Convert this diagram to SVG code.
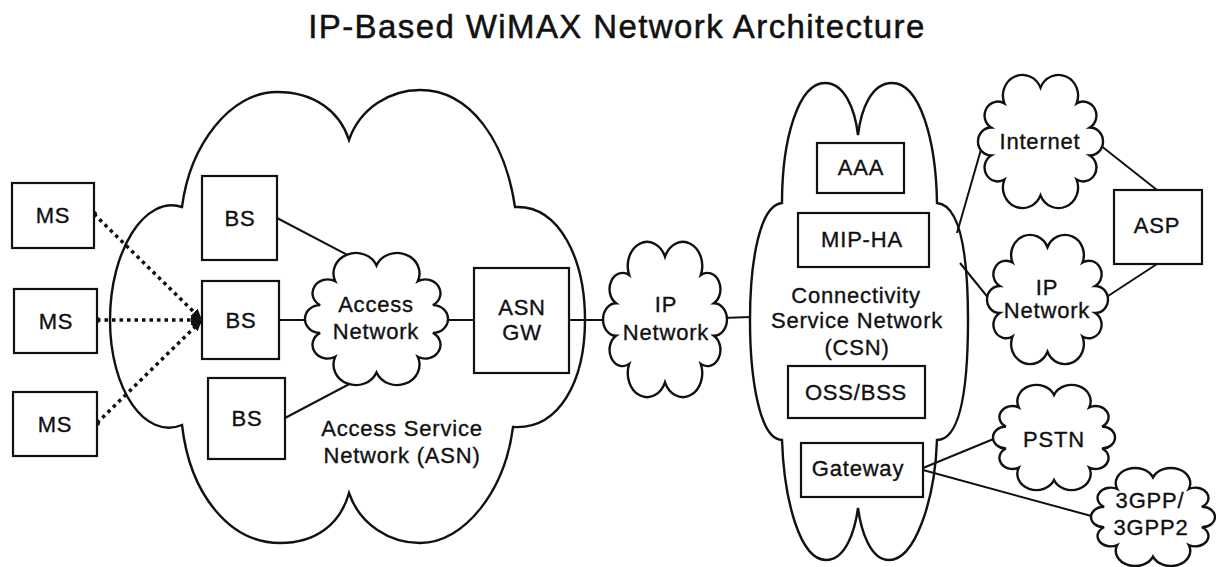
<svg xmlns="http://www.w3.org/2000/svg" xmlns:xlink="http://www.w3.org/1999/xlink" width="1216" height="567" viewBox="0 0 1216 567">
<style>
.bg{fill:#fff}
.box{fill:#fff;stroke:#111;stroke-width:2.2}
.big{fill:#fff;stroke:#111;stroke-width:2.4}
.cloud{fill:#fff;stroke:#111}
.ln{stroke:#111;stroke-width:2;fill:none}
.dl{stroke:#111;stroke-width:3.5;stroke-dasharray:3.5 4;fill:none}
.t{font-family:"Liberation Sans",Arial,Helvetica,sans-serif;font-size:22px;letter-spacing:0.8px;text-anchor:middle;fill:#111;stroke:#111;stroke-width:0.35}
.title{font-family:"Liberation Sans",Arial,Helvetica,sans-serif;font-size:33px;letter-spacing:1.4px;text-anchor:middle;fill:#111;stroke:#111;stroke-width:0.5}
</style>
<defs>
<path id="cl" vector-effect="non-scaling-stroke" stroke-width="2.4" d="M0,-40 A1,1 0 0 1 28.28,-28.28 A1,1 0 0 1 38.64,-10.35 A1,1 0 0 1 38.64,10.35 A1,1 0 0 1 28.28,28.28 A1,1 0 0 1 0,40 A1,1 0 0 1 -28.28,28.28 A1,1 0 0 1 -38.64,10.35 A1,1 0 0 1 -38.64,-10.35 A1,1 0 0 1 -28.28,-28.28 A1,1 0 0 1 0,-40 Z"/>
<marker id="arr" markerUnits="userSpaceOnUse" markerWidth="12" markerHeight="10" refX="11" refY="5" orient="auto">
<path d="M0,0 L11,5 L0,10 z" fill="#111"/>
</marker>
<marker id="dot" markerUnits="userSpaceOnUse" markerWidth="8" markerHeight="8" refX="4" refY="4">
<circle cx="4" cy="4" r="3" fill="#111"/>
</marker>
</defs>
<rect class="bg" x="0" y="0" width="1216" height="567"/>
<text class="title" x="617" y="38">IP-Based WiMAX Network Architecture</text>

<g id="asn">
<path class="big" d="M182,207 C190,145 230,92 277,92 C315,92 340,112 349,140 C360,108 390,90 420,90 C470,90 505,140 515,207 C560,205 585,260 585,320 C585,380 560,430 513,427 C505,490 465,543 420,543 C390,543 360,525 349,493 C340,525 315,543 280,543 C230,543 190,495 182,425 C145,440 110,390 110,320 C110,250 145,195 182,207 Z"/>
<text class="t" x="402" y="436">Access Service</text>
<text class="t" x="402" y="463">Network (ASN)</text>
</g>

<g id="csn">
<path class="big" d="M782,203 C782,140 798,83 825,83 C845,83 855,110 858,135 C861,110 871,83 892,83 C920,83 936,140 937,203 C962,205 968,260 968,320 C968,380 962,440 937,440 C935,500 915,560 889,560 C870,560 861,530 858,508 C855,530 846,560 826,560 C800,560 784,500 782,440 C760,440 750,380 750,320 C750,260 760,205 782,203 Z"/>
<text class="t" x="856" y="303">Connectivity</text>
<text class="t" x="857" y="328">Service Network</text>
<text class="t" x="857" y="355">(CSN)</text>
</g>

<g id="connectors">
<line class="dl" x1="94" y1="214" x2="202" y2="320" marker-start="url(#dot)" marker-end="url(#arr)"/>
<line class="dl" x1="97" y1="320" x2="202" y2="320" marker-start="url(#dot)" marker-end="url(#arr)"/>
<line class="dl" x1="97" y1="423" x2="202" y2="320" marker-start="url(#dot)" marker-end="url(#arr)"/>
<line class="ln" x1="277" y1="218" x2="357" y2="260"/>
<line class="ln" x1="279" y1="320" x2="310" y2="320"/>
<line class="ln" x1="285" y1="418" x2="357" y2="380"/>
<line class="ln" x1="443" y1="320" x2="474" y2="320"/>
<line class="ln" x1="569" y1="320" x2="607" y2="320"/>
<line class="ln" x1="722" y1="318" x2="751" y2="317"/>
<line class="ln" x1="957" y1="233" x2="982" y2="146"/>
<line class="ln" x1="960" y1="263" x2="990" y2="300"/>
<line class="ln" x1="1100" y1="145" x2="1157" y2="190"/>
<line class="ln" x1="1105" y1="298" x2="1157" y2="264"/>
<line class="ln" x1="923" y1="468" x2="996" y2="438"/>
<line class="ln" x1="923" y1="470" x2="1095" y2="517"/>
</g>

<g id="ms1"><rect class="box" x="12" y="183" width="82" height="65"/><text class="t" x="53" y="223">MS</text></g>
<g id="ms2"><rect class="box" x="14" y="289" width="83" height="64"/><text class="t" x="56" y="329">MS</text></g>
<g id="ms3"><rect class="box" x="13" y="392" width="84" height="64"/><text class="t" x="55" y="432">MS</text></g>

<g id="bs1"><rect class="box" x="202" y="176" width="75" height="84"/><text class="t" x="240" y="226">BS</text></g>
<g id="bs2"><rect class="box" x="202" y="281" width="77" height="78"/><text class="t" x="241" y="328">BS</text></g>
<g id="bs3"><rect class="box" x="208" y="378" width="77" height="81"/><text class="t" x="247" y="426">BS</text></g>

<g id="access-network">
<use href="#cl" class="cloud" transform="translate(376.5,319) scale(1.46,1.336)"/>
<text class="t" x="376" y="312">Access</text>
<text class="t" x="376" y="339">Network</text>
</g>

<g id="asn-gw"><rect class="box" x="474" y="268" width="95" height="105"/><text class="t" x="522" y="315">ASN</text><text class="t" x="522" y="340">GW</text></g>

<g id="ip-network">
<use href="#cl" class="cloud" transform="translate(665,319.5) scale(1.265,1.57)"/>
<text class="t" x="666" y="312">IP</text>
<text class="t" x="666" y="340">Network</text>
</g>

<g id="aaa"><rect class="box" x="817" y="143" width="87" height="50"/><text class="t" x="861" y="175">AAA</text></g>
<g id="mip-ha"><rect class="box" x="798" y="213" width="131" height="54"/><text class="t" x="862" y="247">MIP-HA</text></g>
<g id="oss-bss"><rect class="box" x="788" y="366" width="137" height="52"/><text class="t" x="856" y="400">OSS/BSS</text></g>
<g id="gateway"><rect class="box" x="801" y="443" width="122" height="54"/><text class="t" x="858" y="476">Gateway</text></g>

<g id="internet">
<use href="#cl" class="cloud" transform="translate(1040.5,141.5) scale(1.276,1.346)"/>
<text class="t" x="1040" y="149">Internet</text>
</g>
<g id="ip-network-2">
<use href="#cl" class="cloud" transform="translate(1047.5,299.5) scale(1.235,1.306)"/>
<text class="t" x="1047" y="295">IP</text>
<text class="t" x="1047" y="318">Network</text>
</g>
<g id="asp"><rect class="box" x="1114" y="190" width="88" height="74"/><text class="t" x="1157" y="233">ASP</text></g>
<g id="pstn">
<use href="#cl" class="cloud" transform="translate(1054,437.5) scale(1.245,1.063)"/>
<text class="t" x="1054" y="447">PSTN</text>
</g>
<g id="3gpp">
<use href="#cl" class="cloud" transform="translate(1153,517) scale(1.265,0.99)"/>
<text class="t" x="1150" y="508">3GPP/</text>
<text class="t" x="1151" y="535">3GPP2</text>
</g>
</svg>
